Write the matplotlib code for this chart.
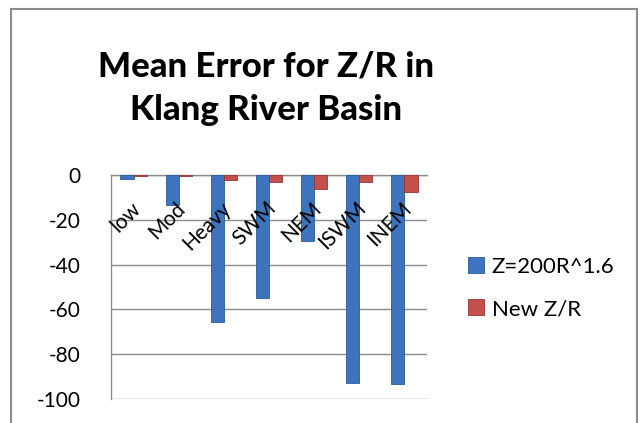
import numpy as np
import matplotlib.pyplot as plt
from matplotlib.patches import Rectangle
import matplotlib.transforms as mtransforms

categories = ["low", "Mod", "Heavy", "SWM", "NEM", "ISWM", "INEM"]
z_old = [-1.8, -13.4, -65.6, -55.0, -29.5, -93.0, -93.3]
z_new = [-0.3, -0.5, -2.2, -3.0, -6.3, -3.0, -7.5]
series_names = ["Z=200R^1.6", "New Z/R"]

plt.rcParams['font.family'] = ['Lato', 'DejaVu Sans']
plt.rcParams['axes.unicode_minus'] = False

W, H = 641, 423
fig = plt.figure(figsize=(W / 100, H / 100), dpi=100)

# outer chart border
fig.patches.append(Rectangle((11 / W, -0.05), (637 - 11) / W, 1.05 - 9 / H,
                             transform=fig.transFigure, fill=False,
                             edgecolor='#8c8c8c', lw=1.5))

ax = fig.add_axes([111 / W, 1 - 399 / H, (427 - 111) / W, (399 - 175) / H])

x = np.arange(len(categories))
bw = 0.29
b1 = ax.bar(x - bw / 2, z_old, bw, color='#3d74bd', edgecolor='#2a5a9a', lw=0.6,
            label=series_names[0], zorder=3)
b2 = ax.bar(x + bw / 2, z_new, bw, color='#c4504c', edgecolor='#9a3532', lw=0.6,
            label=series_names[1], zorder=3)

ax.set_xlim(-0.5, len(categories) - 0.5)
ax.set_ylim(-100, 0)
ax.set_yticks(np.arange(-100, 1, 20))
ax.yaxis.grid(True, color='#8c8c8c', lw=1)
ax.set_axisbelow(True)
ax.tick_params(axis='y', length=0, labelsize=15, pad=22)
ax.set_xticks([])
for side in ['right', 'bottom']:
    ax.spines[side].set_visible(False)
ax.spines['left'].set_color('#8c8c8c')
ax.spines['top'].set_color('#8c8c8c')
ax.spines['left'].set_linewidth(1)
ax.spines['top'].set_linewidth(1)

# rotated category labels hanging under the zero line
trans = mtransforms.blended_transform_factory(ax.transData, ax.transAxes)
for i, c in enumerate(categories):
    ax.text(i + 0.08, 0.865, c, transform=trans, rotation=45, fontsize=15,
            ha='right', va='center', rotation_mode='anchor', zorder=4)

fig.text(266 / W, 1 - 67 / H, "Mean Error for Z/R in", ha='center', va='center',
         fontsize=25, fontweight='black')
fig.text(266 / W, 1 - 110 / H, "Klang River Basin", ha='center', va='center',
         fontsize=25, fontweight='black')

fig.legend(handles=[b1, b2], labels=series_names, loc='center left',
           bbox_to_anchor=(459 / W, 1 - 288 / H), frameon=False, fontsize=16,
           handlelength=0.72, handleheight=0.72, handletextpad=0.35,
           labelspacing=1.0, borderaxespad=0)

fig.savefig("out.png", dpi=100)
